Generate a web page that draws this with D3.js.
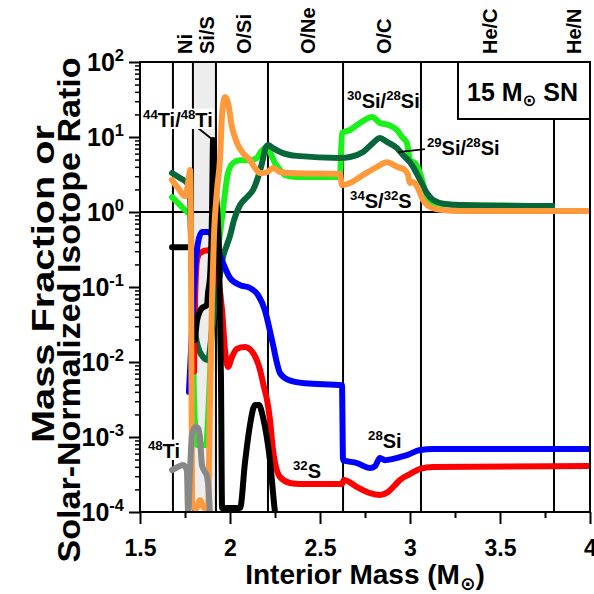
<!DOCTYPE html>
<html lang="en">
<head>
  <meta charset="utf-8">
  <title>15 Msun SN profiles</title>
  <script type="text/javascript" src="https://cdnjs.cloudflare.com/ajax/libs/d3/7.8.5/d3.min.js"></script>
  <style>
    body {
      margin: 0px;
      background: #ffffff;
    }
    svg {
      display: block;
      font-family: "Liberation Sans", Arial, "DejaVu Sans", sans-serif;
      font-weight: bold;
    }
    text {
      white-space: pre;
    }
  </style>
</head>
<body>
  <script type="text/javascript">
    // zone boundaries (interior mass, Msun) and their names
    var zoneEdges = [1.683, 1.794, 1.922, 2.211, 2.628, 3.061, 3.8, 4.0];
    var zoneNames = ["Ni", "Si/S", "O/Si", "O/Ne", "O/C", "He/C", "He/N"];
    var shadedZone = [1.794, 1.922];

    var xTicks = [1.5, 2, 2.5, 3, 3.5, 4];
    var xMinorTicks = [1.75, 2.25, 2.75, 3.25, 3.75];
    var yExponents = [-4, -3, -2, -1, 0, 1, 2];

    // [interior mass, mass fraction or ratio]; null = gap
    var si28 = [[1.772, 0.0040], [1.789, 0.0267], [1.806, 0.169], [1.822, 0.386], [1.844, 0.54],
      [1.878, 0.54], [1.906, 0.46], [1.933, 0.31], [1.961, 0.209], [2.0, 0.132], [2.056, 0.106],
      [2.111, 0.097], [2.156, 0.078], [2.194, 0.049], [2.233, 0.0197], [2.278, 0.0071],
      [2.322, 0.0058], [2.417, 0.0052], [2.622, 0.0049], [2.628, 4.9e-4], [2.706, 4.5e-4],
      [2.778, 3.86e-4], [2.806, 4.1e-4], [2.833, 5.25e-4], [2.861, 4.9e-4], [2.906, 5.1e-4],
      [2.944, 5.4e-4], [2.983, 5.75e-4], [3.056, 6.7e-4], [3.128, 6.9e-4], [4.0, 6.9e-4]];

    var s32 = [[1.800, 0.0074], [1.806, 0.067], [1.817, 0.229], [1.833, 0.284], [1.878, 0.31],
      [1.906, 0.25], [1.933, 0.136], [1.956, 0.049], [1.972, 0.0145], [1.989, 0.0086],
      [2.011, 0.0117], [2.039, 0.015], [2.083, 0.0158], [2.128, 0.0132], [2.167, 0.0078],
      [2.189, 0.0046], [2.206, 0.0031], [2.222, 0.0017], [2.239, 6.7e-4], [2.278, 2.93e-4],
      [2.333, 2.44e-4], [2.389, 2.36e-4], [2.622, 2.36e-4], [2.633, 2.67e-4], [2.706, 2.15e-4],
      [2.778, 1.79e-4], [2.833, 1.69e-4], [2.878, 1.85e-4], [2.917, 2.29e-4], [2.944, 2.67e-4],
      [3.0, 3.21e-4], [3.056, 3.75e-4], [3.128, 3.98e-4], [4.0, 4.1e-4]];

    var ti44ti48 = [[1.678, 0.34], [1.772, 0.34], [1.79, null], [1.806, 0.0197], [1.817, 0.036],
      [1.844, 0.0525], [1.872, 0.0575], [1.878, 0.083], [1.889, 0.136], [1.9, 0.97], [1.906, 9.1],
      [1.917, 2.67], [1.939, 0.31], [1.95, 0.0058], [1.956, 1.13e-4], [2.056, 1.13e-4],
      [2.083, 4.5e-4], [2.111, 1.45e-3], [2.139, 2.67e-3], [2.161, 2.67e-3], [2.183, 1.85e-3],
      [2.222, 4.9e-4], [2.25, 1e-4], [2.267, 6e-5]];

    var s34s32 = [[1.678, 2.67], [1.711, 2.09], [1.750, 1.63], [1.772, 2.9], [1.778, 3.63],
      [1.783, 0.575], [1.789, 1.24e-4], [1.811, 1.1e-4], [1.833, 1.45e-4], [1.856, 1.13e-4],
      [1.878, 1.13e-4], [1.889, 3.1e-3], [1.9, 0.067], [1.911, 0.49], [1.928, 1.97], [1.944, 4.9],
      [1.956, 19.7], [1.972, 34.1], [1.989, 28.4], [2.011, 13.6], [2.039, 8.3], [2.072, 6.1],
      [2.111, 4.9], [2.139, 3.86], [2.167, 3.31], [2.206, 3.41], [2.239, 3.86], [2.278, 3.41],
      [2.333, 3.31], [2.611, 3.21], [2.622, 2.29], [2.667, 2.44], [2.739, 3.11], [2.817, 4.0],
      [2.872, 4.6], [2.928, 4.0], [2.972, 3.63], [2.989, 3.11], [3.0, 2.44], [3.017, 2.51],
      [3.044, 2.09], [3.072, 1.45], [3.111, 1.17], [3.183, 1.06], [3.278, 1.03], [4.0, 1.03]];

    var si30si28 = [[1.678, 1.58], [1.722, 1.24], [1.761, 1.0], [1.778, 0.91], [1.789, 0.067],
      [1.8, 0.0031], [1.817, 7.8e-4], [1.867, 7.8e-4], [1.883, 0.0031], [1.9, 0.03], [1.922, 0.18],
      [1.944, 0.5], [1.956, 0.86], [1.972, 1.79], [1.989, 3.31], [2.017, 4.5], [2.056, 4.9],
      [2.111, 4.9], [2.15, 5.25], [2.167, 6.1], [2.194, 7.1], [2.211, 7.1], [2.222, 6.3],
      [2.25, 4.5], [2.278, 3.63], [2.306, 3.11], [2.372, 2.93], [2.611, 2.93], [2.622, 11.3],
      [2.667, 12.4], [2.722, 15.4], [2.789, 18.5], [2.833, 15.4], [2.878, 14.5], [2.928, 12.4],
      [2.956, 10.0], [2.983, 8.3], [3.0, 4.9], [3.028, 4.5], [3.056, 3.31], [3.094, 1.58],
      [3.128, 1.32], [3.278, 1.24], [3.789, 1.2]];

    var si29si28 = [[1.678, 3.31], [1.722, 2.84], [1.767, 2.36], [1.778, 1.45], [1.789, 0.124],
      [1.8, 0.036], [1.817, 0.0179], [1.85, 0.0117], [1.878, 0.0106], [1.9, 0.0267], [1.922, 0.078],
      [1.944, 0.145], [1.961, 0.25], [1.983, 0.363], [2.0, 0.48], [2.022, 0.78], [2.056, 1.24],
      [2.094, 1.58], [2.128, 1.97], [2.156, 2.93], [2.178, 4.5], [2.194, 6.7], [2.211, 7.8],
      [2.239, 7.1], [2.294, 6.1], [2.372, 5.6], [2.611, 5.25], [2.667, 5.4], [2.739, 6.3],
      [2.794, 8.3], [2.833, 9.7], [2.872, 8.6], [2.928, 7.1], [2.961, 5.75], [3.0, 4.6],
      [3.017, 4.0], [3.056, 2.67], [3.094, 1.79], [3.128, 1.45], [3.194, 1.28], [3.278, 1.24],
      [3.789, 1.2]];

    var ti48 = [[1.678, 3.63e-4], [1.7, 3.86e-4], [1.739, 4.23e-4], [1.756, 3.86e-4],
      [1.761, 3.4e-4], [1.767, 1e-4], [1.778, 3.63e-4], [1.789, 1.06e-3], [1.806, 1.36e-3],
      [1.822, 1.32e-3], [1.833, 1.0e-3], [1.844, 4.23e-4], [1.861, 3.41e-4], [1.872, 3.02e-4],
      [1.883, 1.69e-4], [1.889, 9e-5]];

    var series = [
      {data: si30si28, color: "#1af01a"},
      {data: si29si28, color: "#08673a"},
      {data: s32, color: "#ff0000"},
      {data: si28, color: "#0000ff"},
      {data: ti44ti48, color: "#000000"},
      {data: s34s32, color: "#ff9a3c"},
      {data: ti48, color: "#888888"}
    ];

    // curve labels: text parts ([text, 1 = superscript]) anchored at [mass, value]
    var curveLabels = [
      {parts: [["30", 1], ["Si/", 0], ["28", 1], ["Si", 0]], at: [2.65, 24.4]},
      {parts: [["29", 1], ["Si/", 0], ["28", 1], ["Si", 0]], at: [3.094, 5.75]},
      {parts: [["34", 1], ["S/", 0], ["32", 1], ["S", 0]], at: [2.667, 1.13]},
      {parts: [["44", 1], ["Ti/", 0], ["48", 1], ["Ti", 0]], at: [1.517, 13.6], box: true},
      {parts: [["48", 1], ["Ti", 0]], at: [1.544, 5.25e-4], box: true},
      {parts: [["32", 1], ["S", 0]], at: [2.35, 2.84e-4]},
      {parts: [["28", 1], ["Si", 0]], at: [2.767, 7.1e-4]}
    ];
    var leaders = [[[1.822, 13.2], [1.906, 9.1]], [[2.933, 6.3], [3.083, 6.9]]];

    var width = 594;
    var height = 594;
    var plot = {left: 140, right: 590, top: 62, bottom: 512};

    var x = d3.scaleLinear().domain([1.5, 4]).range([plot.left, plot.right]);
    var y = d3.scaleLog().domain([1e-4, 1e2]).range([plot.bottom, plot.top]);

    var svg = d3.select("body").append("svg")
      .attr("width", width)
      .attr("height", height);

    svg.append("clipPath").attr("id", "plotclip")
      .append("rect")
      .attr("x", plot.left).attr("y", plot.top)
      .attr("width", plot.right - plot.left).attr("height", plot.bottom - plot.top);

    // shaded Si/S zone
    svg.append("rect")
      .attr("x", x(shadedZone[0])).attr("y", plot.top)
      .attr("width", x(shadedZone[1]) - x(shadedZone[0]))
      .attr("height", plot.bottom - plot.top)
      .attr("fill", "#ededed");

    // zone boundary lines
    svg.selectAll("line.zone").data(zoneEdges.slice(0, -1)).enter().append("line")
      .attr("class", "zone")
      .attr("x1", function (d) { return x(d); })
      .attr("x2", function (d) { return x(d); })
      .attr("y1", plot.top).attr("y2", plot.bottom)
      .attr("stroke", "#000").attr("stroke-width", 2);

    // ratio = 1 line
    svg.append("line")
      .attr("x1", plot.left).attr("x2", plot.right)
      .attr("y1", y(1)).attr("y2", y(1))
      .attr("stroke", "#000").attr("stroke-width", 2);

    var line = d3.line()
      .defined(function (d) { return d[1] !== null; })
      .x(function (d) { return x(d[0]); })
      .y(function (d) { return y(d[1]); })
      .curve(d3.curveMonotoneX);

    svg.append("g").attr("clip-path", "url(#plotclip)")
      .selectAll("path").data(series).enter().append("path")
      .attr("d", function (d) { return line(d.data); })
      .attr("fill", "none")
      .attr("stroke", function (d) { return d.color; })
      .attr("stroke-width", 6)
      .attr("stroke-linejoin", "round")
      .attr("stroke-linecap", "round");

    // frame
    svg.append("rect")
      .attr("x", plot.left).attr("y", plot.top)
      .attr("width", plot.right - plot.left).attr("height", plot.bottom - plot.top)
      .attr("fill", "none").attr("stroke", "#000").attr("stroke-width", 2);

    // text with super/subscripts (kind 1 = super, -1 = sub)
    function richText(g, parts, size) {
      var t = g.append("text").attr("font-size", size);
      var prev = 0;
      parts.forEach(function (p) {
        var off = p[1] * size * (p[1] > 0 ? 0.42 : 0.2);
        var ts = t.append("tspan").text(p[0]).attr("dy", prev - off);
        if (p[1] !== 0) ts.attr("font-size", size * 0.66);
        prev = off;
      });
      return t;
    }

    // leader lines
    svg.selectAll("line.leader").data(leaders).enter().append("line")
      .attr("x1", function (d) { return x(d[0][0]); })
      .attr("y1", function (d) { return y(d[0][1]); })
      .attr("x2", function (d) { return x(d[1][0]); })
      .attr("y2", function (d) { return y(d[1][1]); })
      .attr("stroke", "#000").attr("stroke-width", 1.8);

    curveLabels.forEach(function (l) {
      var g = svg.append("g");
      var t = richText(g, l.parts, 20)
        .attr("x", x(l.at[0])).attr("y", y(l.at[1]));
      if (l.box) {
        var b = t.node().getBBox();
        g.insert("rect", "text")
          .attr("x", b.x - 1).attr("y", b.y + 2)
          .attr("width", b.width + 2).attr("height", b.height - 4)
          .attr("fill", "#fff");
      }
    });

    // "15 Msun SN" box
    svg.append("rect")
      .attr("x", 458).attr("y", plot.top)
      .attr("width", plot.right - 458).attr("height", 57)
      .attr("fill", "#fff").attr("stroke", "#000").attr("stroke-width", 2);
    richText(svg, [["15 M", 0], ["\u2299", -1], [" SN", 0]], 25)
      .attr("x", 467).attr("y", 101);

    // zone names along the top
    svg.selectAll("text.zonename").data(zoneNames).enter().append("text")
      .attr("class", "zonename")
      .attr("font-size", 20)
      .attr("transform", function (d, i) {
        var cx = (x(zoneEdges[i]) + x(zoneEdges[i + 1])) / 2 + 2;
        return "translate(" + cx + ",54) rotate(-90)";
      })
      .attr("dy", "0.36em")
      .text(function (d) { return d; });

    // x axis
    svg.append("g")
      .attr("transform", "translate(0," + plot.bottom + ")")
      .call(d3.axisBottom(x).tickValues(xMinorTicks).tickSize(6).tickFormat(""))
      .call(function (g) { g.select(".domain").remove(); })
      .selectAll("line").attr("stroke-width", 2);
    var xAxis = svg.append("g")
      .attr("transform", "translate(0," + plot.bottom + ")")
      .call(d3.axisBottom(x).tickValues(xTicks).tickSize(12).tickPadding(16)
        .tickFormat(function (d) { return String(d); }));
    xAxis.select(".domain").remove();
    xAxis.selectAll("line").attr("stroke-width", 2);
    xAxis.selectAll("text")
      .attr("font-size", 23).attr("font-family", null).attr("fill", "#000");

    // y axis: minor then major ticks
    var minor = [];
    yExponents.slice(0, -1).forEach(function (e) {
      for (var k = 2; k <= 9; k++) minor.push(k * Math.pow(10, e));
    });
    svg.append("g")
      .attr("transform", "translate(" + plot.left + ",0)")
      .call(d3.axisLeft(y).tickValues(minor).tickSize(5).tickFormat(""))
      .call(function (g) { g.select(".domain").remove(); })
      .selectAll("line").attr("stroke-width", 1.5);
    var yAxis = svg.append("g")
      .attr("transform", "translate(" + plot.left + ",0)")
      .call(d3.axisLeft(y).tickValues(yExponents.map(function (e) { return Math.pow(10, e); }))
        .tickSize(11).tickFormat(""));
    yAxis.select(".domain").remove();
    yAxis.selectAll("line").attr("stroke-width", 2);
    yExponents.forEach(function (e) {
      richText(svg, [["10", 0], [String(e), 1]], 25)
        .attr("x", 124).attr("y", y(Math.pow(10, e)) + 9)
        .attr("text-anchor", "end");
    });

    // axis titles
    richText(svg, [["Interior Mass (M", 0], ["\u2299", -1], [")", 0]], 28)
      .attr("x", (plot.left + plot.right) / 2).attr("y", 584)
      .attr("text-anchor", "middle");

    var yTitle = svg.append("g").attr("transform", "rotate(-90)");
    yTitle.append("text").attr("x", -284).attr("y", 54)
      .attr("font-size", 32).attr("text-anchor", "middle")
      .attr("textLength", 318).attr("lengthAdjust", "spacingAndGlyphs")
      .text("Mass Fraction or");
    yTitle.append("text").attr("x", -310).attr("y", 80)
      .attr("font-size", 32).attr("text-anchor", "middle")
      .attr("textLength", 505).attr("lengthAdjust", "spacingAndGlyphs")
      .text("Solar-Normalized Isotope Ratio");
  </script>
</body>
</html>
